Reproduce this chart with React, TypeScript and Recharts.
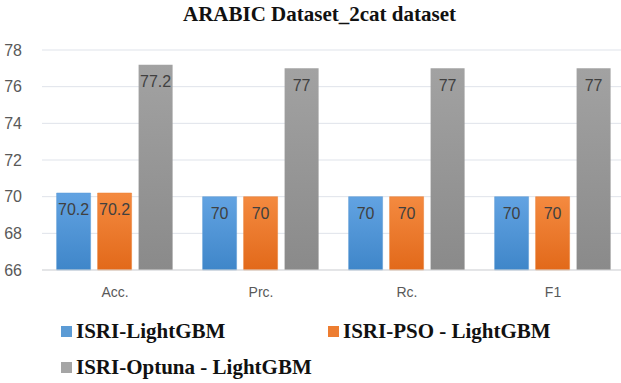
import React from 'react';
import { BarChart, Bar, XAxis, YAxis, CartesianGrid, LabelList, Legend } from 'recharts';

const categories = ['Acc.', 'Prc.', 'Rc.', 'F1'];
const isriLightGbm = [70.2, 70, 70, 70];
const isriPsoLightGbm = [70.2, 70, 70, 70];
const isriOptunaLightGbm = [77.2, 77, 77, 77];
const yTicks = [66, 68, 70, 72, 74, 76, 78];

const seriesNames = ['ISRI-LightGBM', 'ISRI-PSO - LightGBM', 'ISRI-Optuna - LightGBM'];
const seriesColors = ['#5b9bd5', '#ed7d31', '#a5a5a5'];

const chartData = categories.map((name, i) => ({
  name,
  a: isriLightGbm[i],
  b: isriPsoLightGbm[i],
  c: isriOptunaLightGbm[i],
}));

const serif = '"Liberation Serif", "Times New Roman", serif';
const sans = '"Liberation Sans", Arial, sans-serif';

const renderLegend = () => {
  const item = (i: number, left: number, top: number) => (
    <div
      key={i}
      style={{ position: 'absolute', left, top, height: 24, display: 'flex', alignItems: 'center' }}
    >
      <span style={{ width: 11, height: 11, background: seriesColors[i], marginRight: 4 }} />
      <span
        style={{
          fontFamily: serif,
          fontWeight: 'bold',
          fontSize: 21,
          lineHeight: '24px',
          color: '#111',
          whiteSpace: 'nowrap',
        }}
      >
        {seriesNames[i]}
      </span>
    </div>
  );
  return (
    <div style={{ position: 'relative', width: 621, height: 80 }}>
      {item(0, 61, 19)}
      {item(1, 328, 19)}
      {item(2, 61, 55)}
    </div>
  );
};

const labelStyle = { fill: '#404040', fontSize: 16, fontFamily: sans };

const App: React.FC = () => {
  return (
    <div style={{ position: 'absolute', left: 0, top: 0, width: 621, height: 383, background: '#fff', overflow: 'hidden' }}>
      <div
        style={{
          position: 'absolute',
          top: 2,
          left: 183,
          fontFamily: serif,
          fontWeight: 'bold',
          fontSize: 21,
          whiteSpace: 'nowrap',
          color: '#111',
        }}
      >
        ARABIC Dataset_2cat dataset
      </div>
      <BarChart
        width={621}
        height={383}
        data={chartData}
        margin={{ top: 50, right: -5, bottom: 3, left: 0 }}
        barCategoryGap="10%"
        barGap={7}
      >
        <defs>
          <linearGradient id="gBlue" x1="0" y1="0" x2="0" y2="1">
            <stop offset="0%" stopColor="#62a3e2" />
            <stop offset="100%" stopColor="#3f86c9" />
          </linearGradient>
          <linearGradient id="gOrange" x1="0" y1="0" x2="0" y2="1">
            <stop offset="0%" stopColor="#f48a40" />
            <stop offset="100%" stopColor="#e2691a" />
          </linearGradient>
          <linearGradient id="gGray" x1="0" y1="0" x2="0" y2="1">
            <stop offset="0%" stopColor="#a2a2a2" />
            <stop offset="100%" stopColor="#8a8a8a" />
          </linearGradient>
        </defs>
        <CartesianGrid vertical={false} stroke="#dfe3ea" />
        <XAxis
          dataKey="name"
          axisLine={{ stroke: '#d9d9d9' }}
          tickLine={false}
          height={30}
          tick={{ fill: '#595959', fontSize: 14, fontFamily: sans }}
          tickMargin={11}
        />
        <YAxis
          domain={[66, 78]}
          ticks={yTicks}
          axisLine={false}
          tickLine={false}
          width={42}
          tick={{ fill: '#595959', fontSize: 16, fontFamily: sans }}
          tickMargin={14}
        />
        <Legend verticalAlign="bottom" height={80} content={renderLegend} />
        <Bar dataKey="a" name={seriesNames[0]} fill="url(#gBlue)" stroke="#5b9bd5" strokeWidth={0.5} isAnimationActive={false}>
          <LabelList dataKey="a" position="insideTop" offset={11} style={labelStyle} />
        </Bar>
        <Bar dataKey="b" name={seriesNames[1]} fill="url(#gOrange)" stroke="#ed7d31" strokeWidth={0.5} isAnimationActive={false}>
          <LabelList dataKey="b" position="insideTop" offset={11} style={labelStyle} />
        </Bar>
        <Bar dataKey="c" name={seriesNames[2]} fill="url(#gGray)" isAnimationActive={false}>
          <LabelList dataKey="c" position="insideTop" offset={11} style={labelStyle} />
        </Bar>
      </BarChart>
    </div>
  );
};

export default App;
